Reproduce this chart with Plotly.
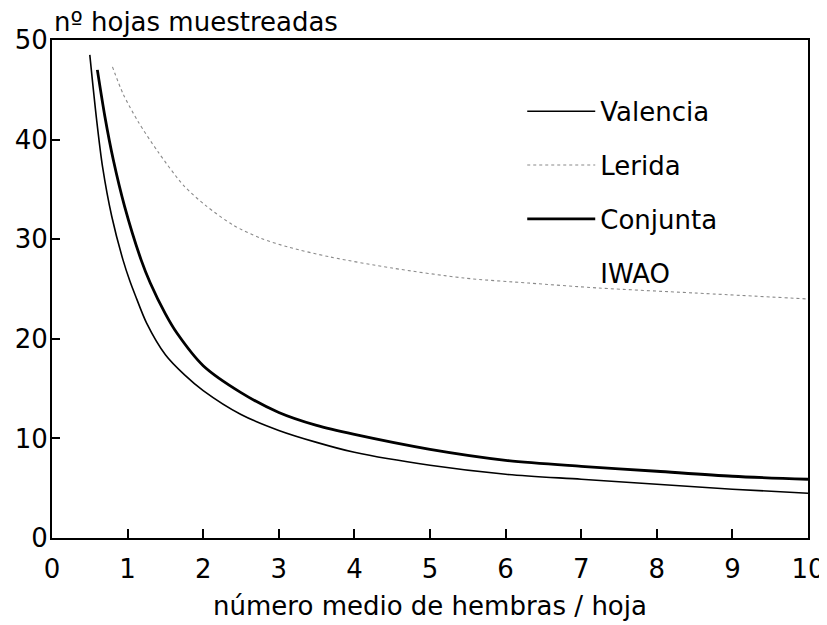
import plotly.graph_objects as go

# ---- data ----
valencia_x = [0.50, 0.59, 0.67, 0.79, 0.94, 1.03, 1.10, 1.25, 1.5, 1.75, 2.0, 2.5, 3.0, 3.5, 4.0, 5.0, 6.0, 7.0, 8.0, 9.0, 10.0]
valencia_y = [48.5, 42.0, 37.2, 32.3, 27.9, 25.8, 24.4, 21.6, 18.4, 16.4, 14.8, 12.4, 10.8, 9.6, 8.6, 7.3, 6.4, 5.9, 5.4, 4.9, 4.5]

lerida_x = [0.80, 0.94, 1.14, 1.40, 1.74, 2.03, 2.40, 2.76, 3.13, 3.69, 4.5, 5.45, 6.3, 7.23, 8.5, 10.0]
lerida_y = [47.3, 44.6, 41.8, 38.8, 35.4, 33.4, 31.4, 30.1, 29.2, 28.2, 27.1, 26.1, 25.6, 25.1, 24.6, 24.0]

conjunta_x = [0.60, 0.70, 0.81, 0.96, 1.18, 1.30, 1.5, 1.65, 2.0, 2.5, 3.0, 3.5, 4.0, 5.0, 6.0, 7.0, 8.0, 9.0, 10.0]
conjunta_y = [47.0, 42.3, 38.0, 33.3, 27.9, 25.6, 22.5, 20.6, 17.3, 14.6, 12.6, 11.3, 10.4, 8.9, 7.8, 7.2, 6.7, 6.2, 5.9]

iwao_x = [None]
iwao_y = [None]

x_ticks = [0, 1, 2, 3, 4, 5, 6, 7, 8, 9, 10]
y_ticks = [0, 10, 20, 30, 40, 50]

FONT = "DejaVu Sans"
FS = 26

fig = go.Figure()
fig.add_trace(go.Scatter(x=valencia_x, y=valencia_y, name="Valencia", mode="lines",
                         line=dict(color="black", width=1.6, shape="spline", smoothing=0.8),
                         legendgroup="a"))
fig.add_trace(go.Scatter(x=lerida_x, y=lerida_y, name="Lerida", mode="lines",
                         line=dict(color="#8a8a8a", width=1.1, dash="dot", shape="spline", smoothing=0.8),
                         legendgroup="b"))
fig.add_trace(go.Scatter(x=conjunta_x, y=conjunta_y, name="Conjunta", mode="lines",
                         line=dict(color="black", width=2.8, shape="spline", smoothing=0.8),
                         legendgroup="c"))
fig.add_trace(go.Scatter(x=iwao_x, y=iwao_y, name="IWAO", mode="lines",
                         line=dict(color="rgba(0,0,0,0)", width=1),
                         legendgroup="d"))

fig.update_layout(
    width=827, height=625,
    margin=dict(l=44, r=27, t=32, b=95, autoexpand=False),
    paper_bgcolor="white", plot_bgcolor="white",
    font=dict(family=FONT, size=FS, color="black"),
    showlegend=True,
    legend=dict(x=0.622, y=0.904, xanchor="left", yanchor="top",
                bgcolor="rgba(0,0,0,0)", tracegroupgap=17,
                itemwidth=68, font=dict(family=FONT, size=FS, color="black")),
    annotations=[dict(text="nº hojas muestreadas", xref="paper", yref="paper",
                      x=0, y=1, xanchor="left", yanchor="bottom", yshift=1,
                      showarrow=False, font=dict(family=FONT, size=FS, color="black"))],
)

fig.update_xaxes(range=[0, 10], tickvals=x_ticks, ticktext=[str(v) for v in x_ticks],
                 automargin=False,
                 showgrid=False, zeroline=False, showline=True, linecolor="black",
                 linewidth=2, mirror=True, ticks="inside", ticklen=9, tickwidth=1.5,
                 tickcolor="black", ticklabelstandoff=7,
                 title=dict(text="número medio de hembras / hoja", standoff=14,
                            font=dict(family=FONT, size=FS)))
fig.update_yaxes(range=[0, 50], tickvals=y_ticks, ticktext=[str(v) for v in y_ticks],
                 automargin=False,
                 showgrid=False, zeroline=False, showline=True, linecolor="black",
                 linewidth=2, mirror=True, ticks="inside", ticklen=8, tickwidth=1.5,
                 tickcolor="black", ticklabelstandoff=-3)

fig.write_html("out.html")
